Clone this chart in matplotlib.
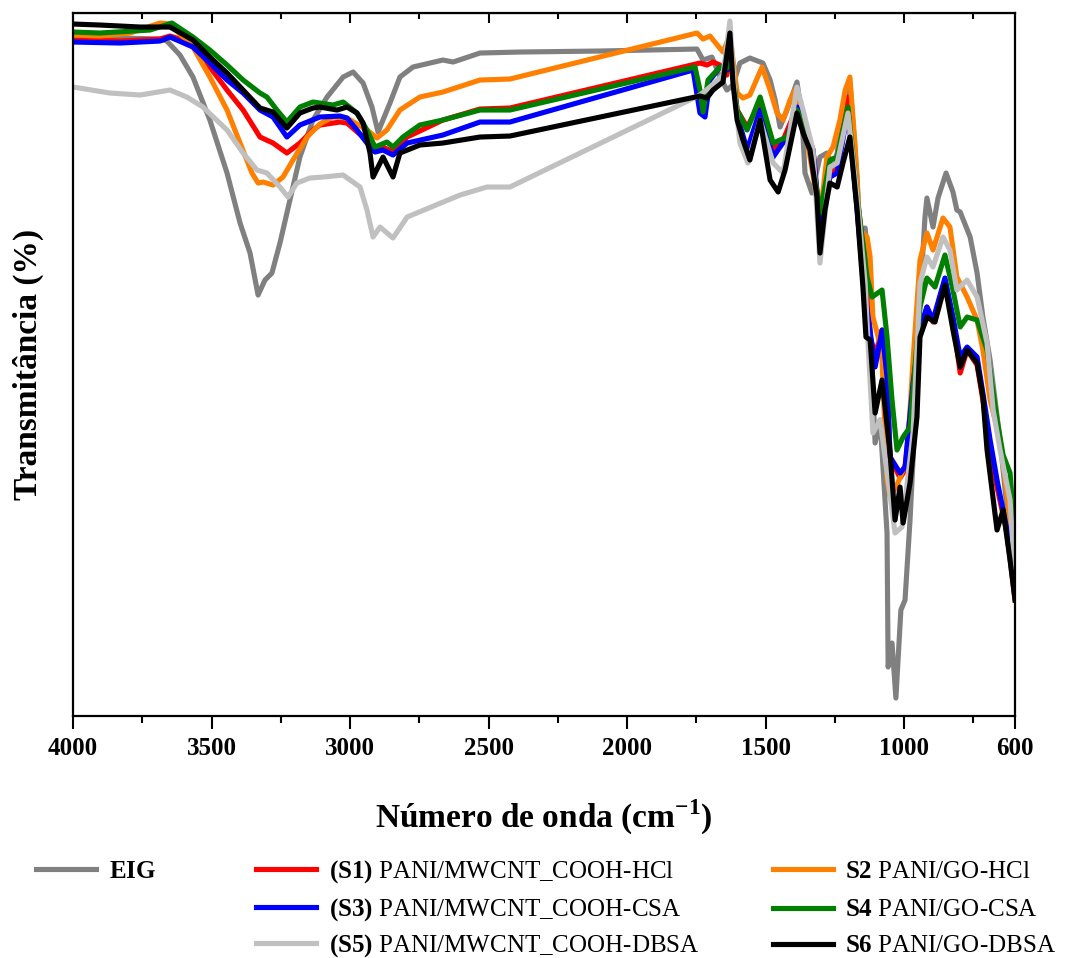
import matplotlib.pyplot as plt

plt.rcParams['font.family'] = ['Liberation Serif', 'DejaVu Serif']
plt.rcParams['mathtext.fontset'] = 'custom'
plt.rcParams['mathtext.rm'] = 'Liberation Serif'
plt.rcParams['mathtext.bf'] = 'Liberation Serif:bold'

# FTIR spectra (wavenumber in cm-1, transmittance in arbitrary %)
eig_wn = [4000, 3830, 3686, 3661, 3614, 3567, 3506, 3444, 3397, 3361, 3332, 3307, 3282, 3253,
          3217, 3181, 3134, 3083, 3025, 2989, 2953, 2921, 2899, 2856, 2820, 2773, 2665, 2628,
          2531, 2387, 2098, 1748, 1726, 1694, 1665, 1640, 1618, 1593, 1557, 1510, 1484, 1466,
          1448, 1423, 1387, 1369, 1358, 1333, 1304, 1279, 1257, 1242, 1221, 1196, 1170, 1160,
          1141, 1134, 1123, 1105, 1087, 1062, 1058, 1044, 1030, 1012, 997, 979, 961, 943, 925,
          918, 896, 878, 849, 824, 810, 798, 762, 737, 716, 690, 654, 625, 600]
eig_t = [67.9, 67.8, 67.7, 67.5, 66.1, 63.9, 59.6, 54.3, 49.3, 46.3, 42.1, 43.6, 44.3, 47.3,
         51.6, 55.9, 59.6, 61.9, 63.9, 64.4, 63.3, 60.9, 58.4, 61.3, 63.9, 64.9, 65.6, 65.4,
         66.3, 66.4, 66.5, 66.7, 65.6, 65.9, 63.9, 62.6, 63.1, 65.3, 65.8, 65.3, 63.6, 61.6,
         58.9, 60.6, 63.4, 59.9, 54.3, 52.3, 55.9, 56.3, 54.9, 56.3, 60.6, 63.3, 53.9, 47.9,
         48.8, 46.6, 38.6, 27.3, 29.6, 18.3, 4.9, 7.3, 1.8, 10.6, 11.6, 19.6, 29.6, 41.6, 49.9,
         51.8, 48.9, 51.8, 54.3, 52.4, 50.6, 50.4, 47.9, 44.3, 39.9, 35.6, 27.6, 19.6, 12.6]

s1_wn = [4000, 3830, 3686, 3650, 3567, 3506, 3444, 3386, 3325, 3278, 3228, 3181, 3134, 3109,
         3036, 3011, 2953, 2917, 2881, 2845, 2794, 2665, 2531, 2423, 1737, 1712, 1690, 1665,
         1640, 1629, 1603, 1567, 1520, 1473, 1437, 1387, 1329, 1304, 1268, 1242, 1206, 1170,
         1141, 1123, 1105, 1080, 1062, 1051, 1015, 997, 968, 943, 918, 896, 853, 824, 798,
         773, 737, 716, 690, 665, 629, 600]
s1_t = [67.6, 67.5, 67.7, 68.0, 67.3, 64.9, 62.6, 60.6, 57.9, 57.3, 56.3, 57.3, 58.6, 59.1,
        59.4, 59.3, 57.9, 56.6, 56.9, 56.4, 57.9, 59.6, 60.7, 60.8, 65.3, 65.1, 65.4, 65.1,
        64.1, 66.5, 60.6, 58.9, 61.3, 56.6, 57.6, 60.9, 56.6, 49.3, 54.3, 54.6, 61.9, 51.9,
        45.3, 37.9, 36.1, 38.6, 33.6, 25.9, 23.8, 24.6, 33.3, 38.6, 40.9, 39.4, 43.6, 39.6, 34.3,
        36.6, 35.1, 31.6, 26.6, 22.9, 18.3, 11.6]

s2_wn = [4000, 3903, 3794, 3686, 3650, 3567, 3506, 3444, 3397, 3354, 3332, 3314, 3278, 3242,
         3206, 3155, 3109, 3062, 3011, 2939, 2903, 2867, 2820, 2748, 2665, 2531, 2423, 1748,
         1726, 1701, 1654, 1629, 1603, 1582, 1557, 1513, 1484, 1459, 1437, 1412, 1394, 1365,
         1340, 1304, 1279, 1257, 1232, 1213, 1196, 1178, 1160, 1134, 1123, 1113, 1094, 1080,
         1062, 1051, 1026, 990, 968, 943, 918, 896, 860, 835, 810, 773, 737, 716, 690, 654,
         618, 600]
s2_t = [68.1, 68.0, 68.3, 69.3, 69.2, 66.9, 63.9, 60.6, 57.3, 54.3, 53.3, 53.4, 53.1, 53.9,
        55.6, 57.9, 59.2, 59.9, 59.8, 58.6, 57.8, 58.6, 60.6, 61.9, 62.4, 63.6, 63.7, 68.3,
        67.7, 68.0, 66.4, 68.1, 62.3, 61.8, 62.1, 64.9, 62.6, 60.3, 59.6, 61.6, 62.6, 59.9,
        55.9, 49.9, 55.9, 56.9, 59.6, 62.6, 63.9, 57.3, 48.6, 47.9, 45.9, 39.9, 37.9, 35.6,
        23.6, 21.9, 23.1, 25.6, 35.6, 45.6, 48.3, 46.6, 49.8, 48.9, 43.9, 41.9, 39.6, 36.6, 31.6,
        27.6, 19.6, 13.6]

s3_wn = [4000, 3830, 3686, 3650, 3567, 3506, 3444, 3386, 3325, 3278, 3228, 3181, 3109, 3036,
         3011, 2975, 2939, 2910, 2881, 2845, 2794, 2665, 2531, 2423, 1762, 1737, 1719, 1701,
         1665, 1640, 1629, 1603, 1567, 1520, 1473, 1423, 1387, 1329, 1304, 1268, 1242, 1203,
         1170, 1149, 1134, 1105, 1080, 1062, 1051, 1015, 997, 968, 943, 918, 896, 853, 824,
         798, 773, 737, 716, 690, 665, 629, 600]
s3_t = [67.4, 67.3, 67.5, 67.9, 66.9, 65.3, 63.6, 62.3, 60.6, 59.9, 57.9, 59.1, 59.9, 60.0,
        59.8, 58.6, 57.3, 56.4, 56.6, 56.1, 57.3, 58.1, 59.4, 59.4, 64.6, 60.3, 59.9, 63.6,
        64.9, 64.6, 66.8, 60.1, 56.6, 60.6, 55.9, 57.9, 60.9, 56.6, 48.9, 53.9, 54.3, 60.6,
        50.6, 43.9, 40.6, 34.9, 38.6, 33.9, 25.9, 24.3, 24.9, 33.3, 38.6, 40.9, 39.6, 43.8, 39.9,
        35.9, 36.9, 35.9, 32.3, 27.6, 23.6, 18.6, 12.1]

s4_wn = [4000, 3903, 3722, 3643, 3567, 3506, 3444, 3386, 3325, 3300, 3264, 3228, 3181, 3134,
         3062, 3025, 2975, 2939, 2910, 2867, 2845, 2809, 2748, 2665, 2531, 2423, 1755, 1737,
         1726, 1708, 1665, 1640, 1629, 1603, 1567, 1520, 1473, 1423, 1387, 1340, 1304, 1268,
         1242, 1203, 1170, 1134, 1116, 1080, 1062, 1044, 1026, 1004, 979, 943, 918, 889, 853,
         824, 798, 773, 737, 701, 665, 643, 618, 600]
s4_t = [68.4, 68.3, 68.6, 69.3, 67.9, 66.6, 65.1, 63.6, 62.3, 61.9, 60.6, 59.4, 60.9, 61.4,
        61.1, 61.4, 60.3, 58.6, 56.9, 57.4, 56.9, 57.9, 59.1, 59.6, 60.6, 60.6, 64.9, 62.6,
        60.4, 63.6, 64.9, 64.8, 66.8, 60.6, 58.6, 61.9, 57.3, 57.9, 60.6, 57.3, 50.3, 55.6,
        55.9, 60.9, 51.9, 43.9, 41.9, 42.6, 37.9, 31.6, 26.6, 27.9, 28.9, 40.9, 43.8, 42.9, 46.1,
        42.6, 38.9, 39.9, 39.6, 36.6, 29.6, 26.1, 24.3, 17.6]

s5_wn = [4000, 3866, 3758, 3650, 3589, 3531, 3444, 3386, 3336, 3300, 3253, 3224, 3192, 3145,
         3098, 3025, 2964, 2939, 2917, 2892, 2845, 2794, 2603, 2506, 2423, 1737, 1701, 1654,
         1629, 1611, 1593, 1564, 1520, 1473, 1437, 1387, 1365, 1329, 1304, 1268, 1242, 1203,
         1170, 1141, 1131, 1113, 1087, 1033, 1008, 968, 943, 918, 896, 860, 835, 810, 773, 737,
         701, 679, 654, 618, 600]
s5_t = [62.9, 62.3, 62.1, 62.6, 61.9, 60.9, 58.6, 56.3, 54.6, 54.3, 52.9, 51.9, 53.3, 53.8,
        53.9, 54.1, 52.9, 50.6, 47.9, 48.9, 47.8, 49.9, 52.1, 52.9, 52.9, 62.1, 62.9, 64.1,
        69.5, 61.9, 57.3, 55.3, 59.6, 55.3, 54.3, 62.9, 60.6, 56.6, 45.3, 54.9, 55.3, 60.3,
        51.9, 43.3, 37.6, 28.3, 29.6, 18.3, 18.9, 28.3, 43.3, 45.9, 44.9, 47.9, 46.6, 42.6, 43.6,
        41.9, 37.3, 30.6, 26.6, 21.6, 13.6]

s6_wn = [4000, 3903, 3758, 3650, 3567, 3506, 3444, 3386, 3325, 3278, 3228, 3181, 3134, 3109,
         3047, 3011, 2975, 2953, 2928, 2917, 2881, 2845, 2820, 2748, 2665, 2531, 2423, 1737,
         1712, 1690, 1654, 1629, 1618, 1603, 1582, 1557, 1520, 1484, 1455, 1430, 1387, 1365,
         1340, 1315, 1304, 1286, 1268, 1242, 1221, 1196, 1170, 1149, 1138, 1123, 1105, 1080,
         1051, 1033, 1015, 1004, 979, 954, 943, 918, 889, 853, 824, 798, 773, 737, 716, 701,
         665, 643, 618, 600]
s6_t = [69.2, 69.1, 68.9, 68.9, 67.6, 65.9, 64.3, 62.6, 60.8, 60.4, 58.8, 60.3, 60.8, 60.9,
        60.6, 60.9, 60.3, 59.3, 56.3, 53.9, 55.9, 53.9, 56.3, 57.1, 57.3, 57.9, 58.0, 62.0,
        61.8, 62.6, 63.4, 68.3, 63.3, 59.6, 57.6, 55.6, 59.6, 53.6, 52.4, 54.6, 60.3, 58.3,
        56.6, 51.9, 46.3, 50.6, 53.3, 52.9, 55.3, 57.9, 50.6, 42.9, 37.9, 37.6, 30.3, 33.6,
        26.3, 19.6, 22.9, 19.3, 23.3, 29.9, 37.9, 39.9, 39.4, 43.1, 38.6, 34.9, 36.6, 35.3, 31.9,
        26.6, 18.6, 20.6, 15.6, 11.6]

# (x, y, colour, legend label, legend column, legend row)
series = [
    (eig_wn, eig_t, '#808080', r'$\mathbf{EIG}$', 0, 0),
    (s1_wn, s1_t, '#ff0000', r'$\mathbf{(S1)}$ PANI/MWCNT_COOH-HCl', 1, 0),
    (s2_wn, s2_t, '#ff8000', r'$\mathbf{S2}$ PANI/GO-HCl', 2, 0),
    (s3_wn, s3_t, '#0000ff', r'$\mathbf{(S3)}$ PANI/MWCNT_COOH-CSA', 1, 1),
    (s4_wn, s4_t, '#008000', r'$\mathbf{S4}$ PANI/GO-CSA', 2, 1),
    (s5_wn, s5_t, '#c0c0c0', r'$\mathbf{(S5)}$ PANI/MWCNT_COOH-DBSA', 1, 2),
    (s6_wn, s6_t, '#000000', r'$\mathbf{S6}$ PANI/GO-DBSA', 2, 2),
]

fig = plt.figure(figsize=(10.67, 9.58), dpi=100)
ax = fig.add_axes([0.0684, 0.2526, 0.8829, 0.7338])

lines = []
for wn, t, color, label, col, row in series:
    ln, = ax.plot(wn, t, color=color, lw=3.7, label=label, solid_joinstyle='round')
    lines.append(ln)

ax.set_xlim(4000, 600)
ax.set_ylim(0, 70.3)
ax.set_xticks([4000, 3500, 3000, 2500, 2000, 1500, 1000, 600])
ax.set_xticks([3750, 3250, 2750, 2250, 1750, 1250, 750], minor=True)
ax.set_yticks([])
ax.tick_params(axis='x', which='major', direction='out', length=9, width=1.5, pad=6,
               labelsize=18)
ax.tick_params(axis='x', which='minor', direction='out', length=5, width=1.5)
for lbl in ax.get_xticklabels():
    lbl.set_fontweight('bold')
for sp in ax.spines.values():
    sp.set_linewidth(1.6)

top = ax.secondary_xaxis('top')
top.set_xticks([3500, 3000, 2500, 2000, 1500, 1000])
top.set_xticks([3750, 3250, 2750, 2250, 1750, 1250, 750], minor=True)
top.tick_params(which='major', direction='in', length=7, width=1.5, labeltop=False)
top.tick_params(which='minor', direction='in', length=4, width=1.5)

ax.set_xlabel(r'Número de onda (cm$^{\mathbf{-1}}$)', fontsize=24, fontweight='bold',
              labelpad=27)
ax.set_ylabel('Transmitância (%)', fontsize=24, fontweight='bold', labelpad=21)

# legend: one entry per cell so every row sits on the same line
col_x = [0.034, 0.240, 0.724]
row_y = [0.0898, 0.0501, 0.0125]
for ln, (wn, t, color, label, col, row) in zip(lines, series):
    fig.legend([ln], [label], loc='center left', bbox_to_anchor=(col_x[col], row_y[row]),
               frameon=False, fontsize=18, handlelength=2.4, handletextpad=0.5,
               borderpad=0, borderaxespad=0)

fig.savefig('out.png', dpi=100)
